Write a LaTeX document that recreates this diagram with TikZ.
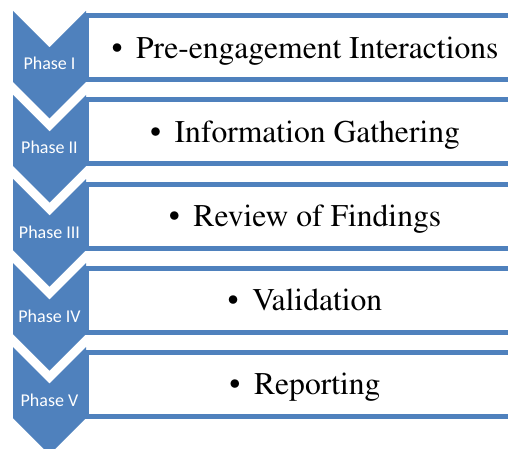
\documentclass[tikz,border=0pt]{standalone}
\usepackage{fontspec}
\newfontfamily\labelfont{Carlito}
\newcommand{\bodyfont}{\fontencoding{T1}\fontfamily{ptm}\selectfont}
\newcommand{\bodybullet}{{\fontencoding{TS1}\fontfamily{ptm}\selectfont\char"88}}
\definecolor{phaseblue}{HTML}{4F81BD}
\tikzset{
  stepbox/.style={draw=phaseblue, line width=5pt, fill=white, rectangle,
    minimum width=438pt, minimum height=64pt, inner sep=0pt,
    text height=21pt, text depth=0pt,
    font=\bodyfont\fontsize{31.6}{36}\selectfont},
  chevron/.style={fill=phaseblue, draw=none},
  phaselabel/.style={text=white, anchor=base, inner sep=0pt,
    font=\labelfont\fontsize{18}{20}\selectfont}
}
\newcommand{\bulletitem}[1]{\bodybullet\hspace{0.43em}#1}
\begin{document}
\begin{tikzpicture}[x=1pt,y=-1pt]
  \clip (0,0) rectangle (508,449);
  \fill[white] (0,0) rectangle (508,449);
  % content boxes
  \node[stepbox] (b1) at (305,48)  {\bulletitem{Pre-engagement Interactions}};
  \node[stepbox] (b2) at (305,132) {\bulletitem{Information Gathering}};
  \node[stepbox] (b3) at (305,216) {\bulletitem{Review of Findings}};
  \node[stepbox] (b4) at (305,300) {\bulletitem{Validation}};
  \node[stepbox] (b5) at (305,384) {\bulletitem{Reporting}};
  % chevrons with phase labels
  \foreach \k/\lab in {0/I,1/II,2/III,3/IV,4/V}{
    \pgfmathsetmacro{\top}{11+84*\k}
    \fill[chevron] (13,\top) -- (49.5,\top+36.5) -- (86,\top) -- (86,\top+71)
      -- (49.5,\top+107.5) -- (13,\top+71) -- cycle;
    \node[phaselabel] (p\k) at (49.5,\top+59) {Phase \lab};
  }
\end{tikzpicture}
\end{document}
